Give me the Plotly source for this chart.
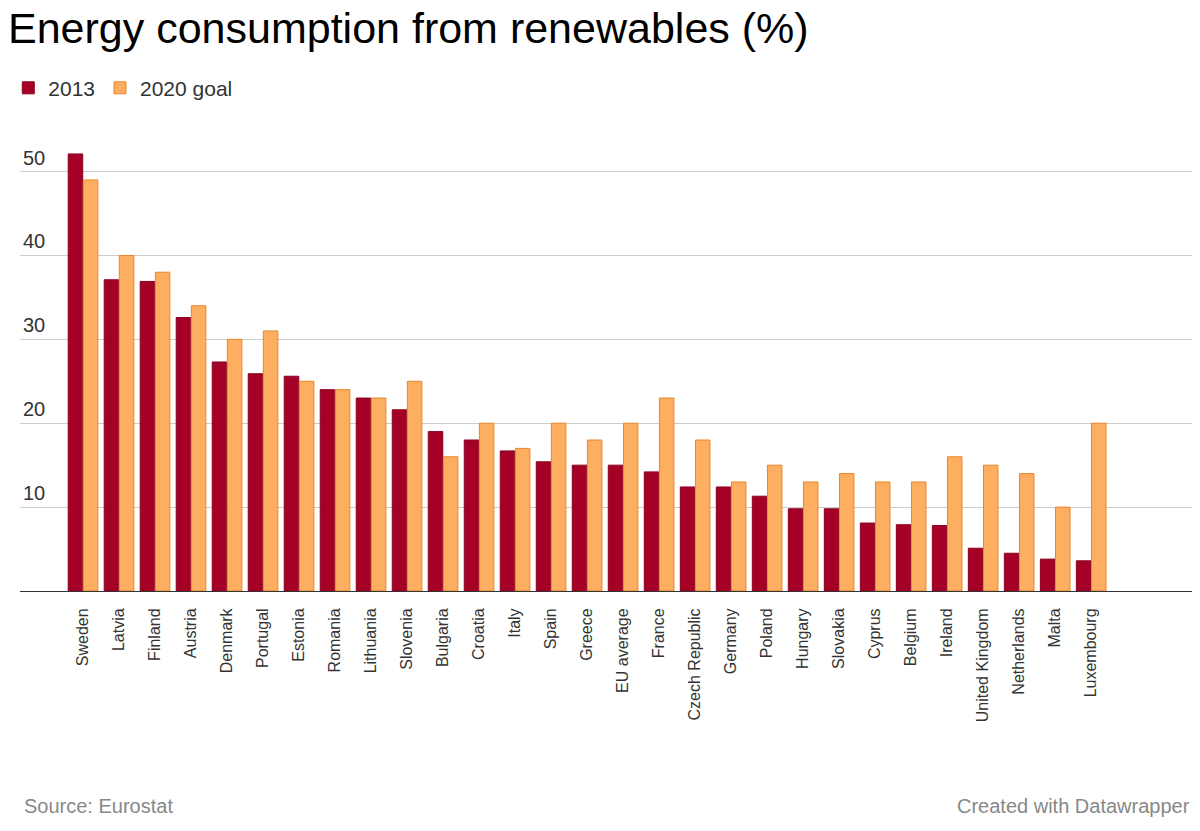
import plotly.graph_objects as go

countries = ["Sweden", "Latvia", "Finland", "Austria", "Denmark", "Portugal", "Estonia",
             "Romania", "Lithuania", "Slovenia", "Bulgaria", "Croatia", "Italy", "Spain",
             "Greece", "EU average", "France", "Czech Republic", "Germany", "Poland",
             "Hungary", "Slovakia", "Cyprus", "Belgium", "Ireland", "United Kingdom",
             "Netherlands", "Malta", "Luxembourg"]
share_2013 = [52.1, 37.1, 36.9, 32.6, 27.3, 25.9, 25.6, 24.0, 23.0, 21.6, 19.0, 18.0, 16.7,
              15.4, 15.0, 15.0, 14.2, 12.4, 12.4, 11.3, 9.8, 9.8, 8.1, 7.9, 7.8, 5.1, 4.5,
              3.8, 3.6]
goal_2020 = [49, 40, 38, 34, 30, 31, 25, 24, 23, 25, 16, 20, 17, 20, 18, 20, 23, 18, 13, 15,
             13, 14, 13, 13, 16, 15, 14, 10, 20]

font = "Liberation Sans, Arial, sans-serif"

fig = go.Figure()
fig.add_bar(x=countries, y=share_2013, name="2013",
            marker=dict(color="#a50026", line=dict(color="#8a0020", width=1)))
fig.add_bar(x=countries, y=goal_2020, name="2020 goal",
            marker=dict(color="#fdae61", line=dict(color="#e8862a", width=1)))

fig.update_layout(
    width=1184, height=815,
    margin=dict(l=0, r=0, t=130, b=232),
    paper_bgcolor="white", plot_bgcolor="white",
    barmode="group", bargap=0.16, bargroupgap=0.04,
    font=dict(family=font, color="#333"),
    title=dict(text="Energy consumption from renewables (%)", x=0.0, y=0.975,
               xanchor="left", yanchor="middle", font=dict(size=43, color="#000")),
    legend=dict(orientation="h", x=-0.01, y=1.11, xanchor="left", yanchor="middle",
                font=dict(size=21, color="#333"), itemwidth=30),
    showlegend=True,
)
fig.update_xaxes(range=[-1.75, 30.8], tickangle=-90, tickfont=dict(size=16, color="#333"),
                 showline=True, linecolor="#333", linewidth=1, ticks="", ticklabelstandoff=10)
fig.update_yaxes(range=[0, 54], tickvals=[10, 20, 30, 40, 50], showgrid=True,
                 gridcolor="#cccccc", gridwidth=1, zeroline=False,
                 ticklabelposition="inside top", tickfont=dict(size=20, color="#333"))
fig.add_annotation(text="Source: Eurostat", xref="paper", yref="paper", x=0.002, y=-0.475,
                   xanchor="left", yanchor="middle", showarrow=False,
                   font=dict(size=20, color="#888"))
fig.add_annotation(text="Created with Datawrapper", xref="paper", yref="paper", x=1.0, y=-0.475,
                   xanchor="right", yanchor="middle", showarrow=False,
                   font=dict(size=20, color="#888"))

fig.write_html("out.html")
